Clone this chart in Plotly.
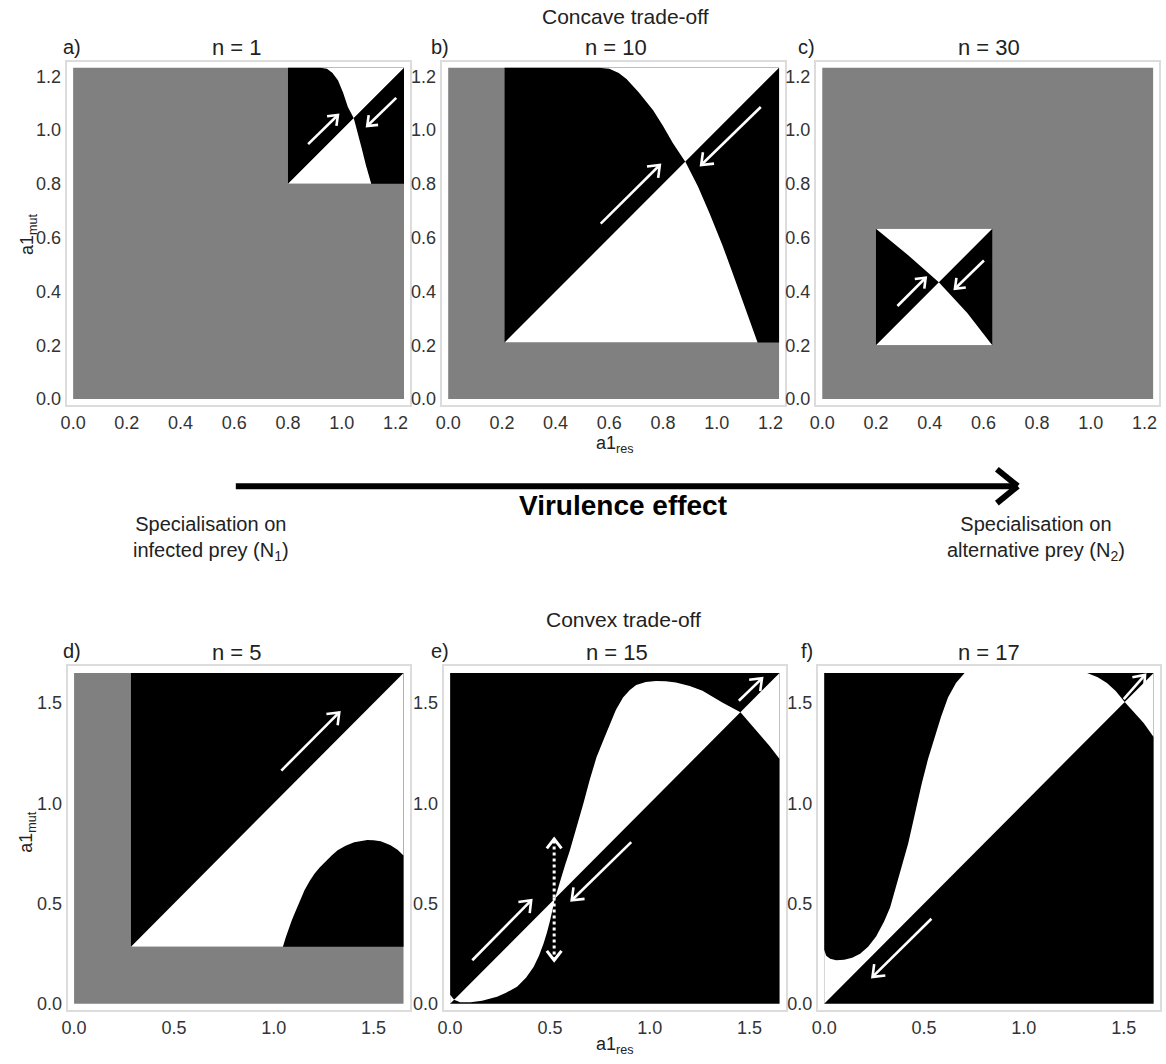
import math
import plotly.graph_objects as go

# ------------------------------------------------------------------ data
concave_max = 1.232
convex_max = 1.65
concave_range = [-0.024, 1.254]
convex_range = [-0.032, 1.682]
concave_ticks = [0.0, 0.2, 0.4, 0.6, 0.8, 1.0, 1.2]
convex_ticks = [0.0, 0.5, 1.0, 1.5]

panel_letters = ["a)", "b)", "c)", "d)", "e)", "f)"]
panel_titles = ["n = 1", "n = 10", "n = 30", "n = 5", "n = 15", "n = 17"]
row_titles = ["Concave trade-off", "Convex trade-off"]

# viable (non-grey) strategy interval of each panel
a_viable = [0.80, 1.232]
b_viable = [0.21, 1.232]
c_viable = [0.20, 0.633]
d_viable = [0.285, 1.65]
e_viable = [0.0, 1.65]
f_viable = [0.0, 1.65]

# boundary (zero-fitness contour other than the diagonal)
a_curve_x = [0.92, 0.945, 0.965, 0.986, 1.005, 1.023, 1.045, 1.060, 1.073, 1.090, 1.110]
a_curve_y = [1.232, 1.228, 1.213, 1.185, 1.140, 1.086, 1.044, 0.990, 0.938, 0.870, 0.800]

b_curve_x = [0.56, 0.60, 0.635, 0.664, 0.71, 0.763, 0.80, 0.837, 0.884, 0.93, 0.973, 1.02, 1.059, 1.10, 1.152]
b_curve_y = [1.232, 1.228, 1.212, 1.190, 1.140, 1.074, 1.015, 0.951, 0.880, 0.790, 0.691, 0.575, 0.469, 0.355, 0.210]

c_curve_x = [0.20, 0.32, 0.434, 0.54, 0.633]
c_curve_y = [0.633, 0.535, 0.434, 0.320, 0.200]

d_curve_x = [0.285, 1.046, 1.060, 1.075, 1.090, 1.104, 1.130, 1.154, 1.180, 1.204, 1.230, 1.254, 1.290,
             1.320, 1.360, 1.403, 1.440, 1.469, 1.500, 1.536, 1.585, 1.620, 1.65]
d_curve_y = [0.285, 0.285, 0.330, 0.375, 0.415, 0.449, 0.510, 0.566, 0.612, 0.648, 0.680, 0.706, 0.740,
             0.765, 0.788, 0.806, 0.814, 0.817, 0.816, 0.811, 0.790, 0.768, 0.740]

e_curve_x = [0.0, 0.02, 0.05, 0.103, 0.16, 0.235, 0.28, 0.335, 0.38, 0.418, 0.445, 0.468, 0.485, 0.501,
             0.525, 0.551, 0.575, 0.60, 0.635, 0.667, 0.70, 0.733, 0.77, 0.80, 0.83, 0.866, 0.90, 0.932,
             0.98, 1.031, 1.08, 1.131, 1.20, 1.264, 1.363, 1.454, 1.50, 1.546, 1.60, 1.65]
e_curve_y = [0.045, 0.02, 0.008, 0.008, 0.015, 0.035, 0.055, 0.085, 0.130, 0.184, 0.240, 0.30, 0.355, 0.416,
             0.525, 0.615, 0.690, 0.765, 0.880, 0.997, 1.120, 1.229, 1.320, 1.395, 1.465, 1.527, 1.565, 1.59,
             1.605, 1.61, 1.608, 1.602, 1.585, 1.561, 1.502, 1.454, 1.402, 1.345, 1.285, 1.22]

f_curve_x = [0.0, 0.01, 0.03, 0.06, 0.10, 0.14, 0.18, 0.22, 0.26, 0.30, 0.33, 0.355, 0.39, 0.421, 0.455,
             0.488, 0.52, 0.554, 0.585, 0.62, 0.66, 0.703, 0.85, 1.0, 1.15, 1.317, 1.37, 1.416, 1.46,
             1.505, 1.555, 1.60, 1.65]
f_curve_y = [0.27, 0.24, 0.225, 0.217, 0.22, 0.23, 0.25, 0.285, 0.335, 0.41, 0.48, 0.566, 0.68, 0.80, 0.95,
             1.096, 1.22, 1.328, 1.43, 1.527, 1.60, 1.65, 1.85, 1.92, 1.85, 1.65, 1.628, 1.60, 1.56,
             1.505, 1.45, 1.40, 1.33]

# direction-of-evolution arrows: (tail x, tail y, head x, head y)
a_arrows = [(0.875, 0.948, 0.986, 1.056), (1.203, 1.120, 1.095, 1.015)]
b_arrows = [(0.568, 0.652, 0.788, 0.870), (1.164, 1.086, 0.942, 0.870)]
c_arrows = [(0.280, 0.346, 0.385, 0.451), (0.602, 0.515, 0.494, 0.410)]
d_arrows = [(1.038, 1.163, 1.328, 1.453)]
e_arrows = [(0.111, 0.217, 0.406, 0.516), (0.907, 0.806, 0.609, 0.516), (1.446, 1.511, 1.562, 1.623)]
e_dotted_arrows = [(0.521, 0.53, 0.521, 0.822), (0.521, 0.53, 0.521, 0.217)]
f_arrows = [(0.537, 0.424, 0.242, 0.134), (1.500, 1.519, 1.607, 1.640)]

GREY = "#808080"
FONT = "Liberation Sans, Arial, sans-serif"
W, H = 1166, 1064

# panel frames in pixels (left, top, right, bottom)
frames = [(61, 62, 406, 407), (438, 62, 783, 407), (814, 62, 1159, 407),
          (62, 669, 406, 1014), (440, 669, 784, 1014), (816, 669, 1160, 1014)]

panels = [
    dict(viable=a_viable, cx=a_curve_x, cy=a_curve_y, kind="v", arrows=a_arrows, grey=True, conc=True),
    dict(viable=b_viable, cx=b_curve_x, cy=b_curve_y, kind="v", arrows=b_arrows, grey=True, conc=True),
    dict(viable=c_viable, cx=c_curve_x, cy=c_curve_y, kind="v", arrows=c_arrows, grey=True, conc=True),
    dict(viable=d_viable, cx=d_curve_x, cy=d_curve_y, kind="h", arrows=d_arrows, grey=True, conc=False),
    dict(viable=e_viable, cx=e_curve_x, cy=e_curve_y, kind="h", arrows=e_arrows, grey=False, conc=False),
    dict(viable=f_viable, cx=f_curve_x, cy=f_curve_y, kind="h", arrows=f_arrows, grey=False, conc=False),
]

fig = go.Figure()


def poly(xs, ys, color, xa, ya):
    fig.add_trace(go.Scatter(x=xs, y=ys, mode="lines", fill="toself", fillcolor=color,
                             line=dict(width=0, color=color), hoverinfo="skip",
                             showlegend=False, xaxis=xa, yaxis=ya))


def rect(x0, x1, color, xa, ya):
    poly([x0, x1, x1, x0, x0], [x0, x0, x1, x1, x0], color, xa, ya)


def arrow(x0, y0, x1, y1, ppu, head_px, xa, ya, dash="solid", width=2.6):
    fig.add_trace(go.Scatter(x=[x0, x1], y=[y0, y1], mode="lines",
                             line=dict(color="white", width=width, dash=dash),
                             hoverinfo="skip", showlegend=False, xaxis=xa, yaxis=ya))
    ang = math.atan2(y1 - y0, x1 - x0)
    L = head_px / ppu
    phi = math.radians(38)
    wx = [x1 - L * math.cos(ang - phi), x1, x1 - L * math.cos(ang + phi)]
    wy = [y1 - L * math.sin(ang - phi), y1, y1 - L * math.sin(ang + phi)]
    fig.add_trace(go.Scatter(x=wx, y=wy, mode="lines",
                             line=dict(color="white", width=width),
                             hoverinfo="skip", showlegend=False, xaxis=xa, yaxis=ya))


layout_axes = {}
for i, p in enumerate(panels):
    n = i + 1
    xa = "x" if n == 1 else f"x{n}"
    ya = "y" if n == 1 else f"y{n}"
    mx = concave_max if p["conc"] else convex_max
    ppu = 270 if p["conc"] else 201
    v0, v1 = p["viable"]
    if p["grey"]:
        rect(0, mx, GREY, xa, ya)
    rect(v0, v1, "black", xa, ya)
    diag = [v0, v1]
    if p["kind"] == "v":
        wx = list(p["cx"]) + diag
        wy = list(p["cy"]) + diag
    else:
        wx = list(p["cx"]) + diag[::-1]
        wy = list(p["cy"]) + diag[::-1]
    poly(wx, wy, "white", xa, ya)
    head = 11 if n in (1, 3) else 13
    for (x0, y0, x1, y1) in p["arrows"]:
        arrow(x0, y0, x1, y1, ppu, head, xa, ya)
    if n == 5:
        for (x0, y0, x1, y1) in e_dotted_arrows:
            arrow(x0, y0, x1, y1, ppu, 12, xa, ya, dash="dot", width=3)

    l, t, r, b = frames[i]
    rng = concave_range if p["conc"] else convex_range
    ticks = concave_ticks if p["conc"] else convex_ticks
    common = dict(range=rng, tickvals=ticks, tickformat=".1f", showgrid=False, zeroline=False,
                  showline=True, mirror=True, linecolor="#dcdcdc", linewidth=2, ticks="",
                  tickfont=dict(family=FONT, size=18, color="#333333"), fixedrange=True)
    layout_axes["xaxis" if n == 1 else f"xaxis{n}"] = dict(
        domain=[l / W, r / W], anchor=ya, **common)
    layout_axes["yaxis" if n == 1 else f"yaxis{n}"] = dict(
        domain=[1 - b / H, 1 - t / H], anchor=xa, **common)

fig.update_layout(**layout_axes)

# ------------------------------------------------------------------ text
ann = []


def text(x, y, s, size=18, color="#222222", **kw):
    ann.append(dict(x=x / W, y=1 - y / H, xref="paper", yref="paper", text=s, showarrow=False,
                    font=dict(family=FONT, size=size, color=color), xanchor="center",
                    yanchor="middle", **kw))


letter_pos = [(66, 47), (436, 47), (805, 47), (66, 653), (436, 653), (805, 653)]
title_pos = [(232, 48), (613, 48), (988, 48), (232, 655), (614, 655), (988, 655)]
for s, (x, y) in zip(panel_letters, letter_pos):
    text(x, y, s, size=20)
for s, (x, y) in zip(panel_titles, title_pos):
    text(x, y, s, size=22)
text(623, 17, row_titles[0], size=21)
text(621, 622, row_titles[1], size=21)

text(612, 446, "a1<sub>res</sub>", size=18)
text(612, 1049, "a1<sub>res</sub>", size=18)
text(22, 235, "a1<sub>mut</sub>", size=18, textangle=-90)
text(22, 835, "a1<sub>mut</sub>", size=18, textangle=-90)

text(620, 507, "<b>Virulence effect</b>", size=28, color="#000000")
text(206, 541, "Specialisation on<br>infected prey (N<sub>1</sub>)", size=20)
text(1035, 541, "Specialisation on<br>alternative prey (N<sub>2</sub>)", size=20)

# big arrow (paper coordinates)
shapes = []
def pline(x0, y0, x1, y1, w):
    shapes.append(dict(type="line", xref="paper", yref="paper", x0=x0 / W, y0=1 - y0 / H,
                       x1=x1 / W, y1=1 - y1 / H, line=dict(color="black", width=w)))

pline(231, 488, 1014, 488, 6)
pline(996, 471, 1017, 488, 6)
pline(996, 505, 1017, 488, 6)

fig.update_layout(annotations=ann, shapes=shapes, width=W, height=H,
                  margin=dict(l=0, r=0, t=0, b=0), paper_bgcolor="white",
                  plot_bgcolor="white", showlegend=False)

fig.write_html("out.html", config={"displayModeBar": False},
               post_script="document.body.style.margin='0px';document.body.style.overflow='hidden';")
